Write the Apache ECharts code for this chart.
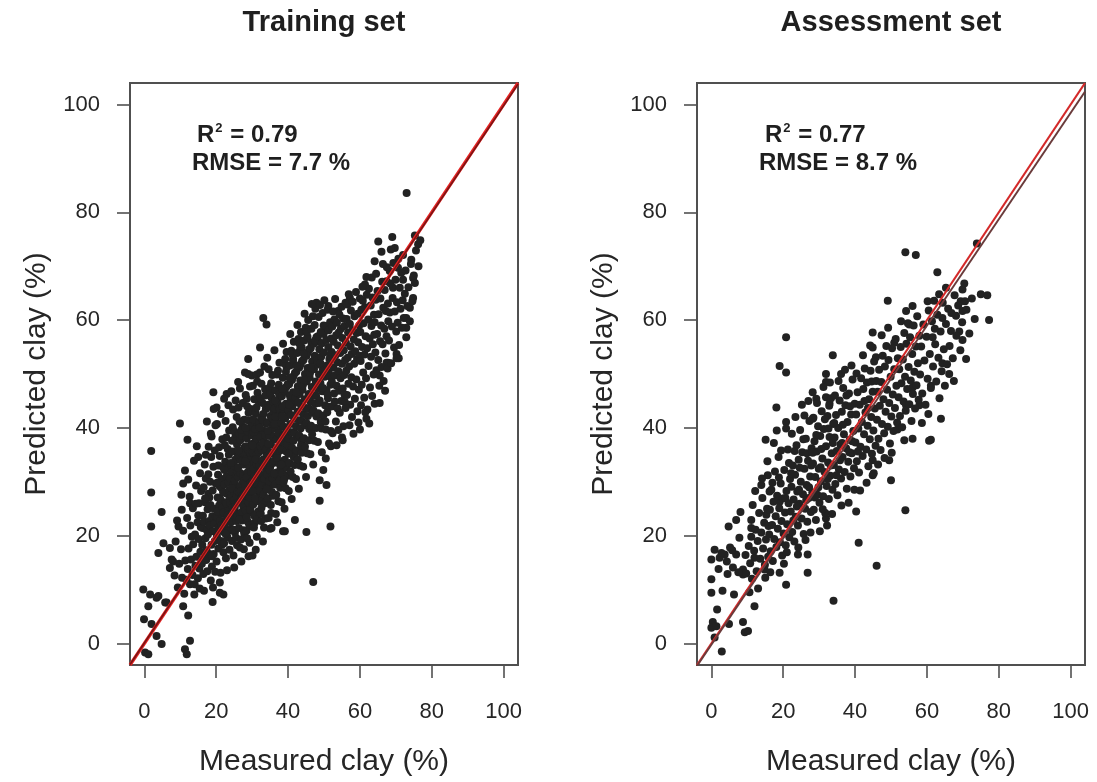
<!DOCTYPE html>
<html>
<head>
<meta charset="utf-8">
<script src="https://cdn.jsdelivr.net/npm/echarts@6/dist/echarts.min.js"></script>
<style>
  html, body { margin: 0; padding: 0; background: #ffffff; }
  #chart { width: 1097px; height: 782px; }
</style>
</head>
<body>
<div id="chart"></div>
<script>
// ---- labels and ticks ----
const panelTitles = ['Training set', 'Assessment set'];
const axisTicks = [0, 20, 40, 60, 80, 100];
const xAxisTitle = 'Measured clay (%)';
const yAxisTitle = 'Predicted clay (%)';
const r2Values = ['0.79', '0.77'];
const rmseValues = ['7.7 %', '8.7 %'];

// ---- training set: [measured, predicted] ----
// isolated and edge points
const trainingEdge = [
  [73.0,83.6],[65.1,74.6],[69.0,75.4],[75.3,75.7],[76.2,74.1],[69.7,73.4],[66.0,72.7],[64.1,70.9],[72.0,72.1],[74.3,71.2],
  [70.6,69.7],[68.3,69.1],[74.8,67.8],[75.3,66.9],[72.0,67.5],[69.2,66.0],[74.8,64.1],[67.4,67.2],[61.4,66.6],[57.2,64.1],
  [47.9,63.2],[51.2,62.6],[53.9,61.7],[33.1,60.4],[34.0,59.2],[73.9,62.3],[72.9,60.4],[72.9,58.6],[72.9,56.8],[70.2,53.7],
  [70.8,52.9],[67.8,52.1],[65.5,49.7],[50.7,58.6],[49.9,57.4],[32.2,54.9],[28.9,52.8],[28.0,50.3],[29.9,49.7],[31.3,49.9],
  [39.6,51.2],[41.4,52.8],[43.8,54.9],[46.5,55.8],[48.5,56.0],
  [1.9,35.7],[1.9,28.0],[1.9,21.7],[4.8,24.4],[9.9,40.8],[12.0,37.8],[3.9,16.8],[5.3,18.6],[7.1,17.7],[7.6,15.6],
  [7.1,14.0],[-0.3,10.0],[1.6,9.1],[3.4,8.5],[1.1,6.9],[-0.1,4.5],[2.0,3.6],[6.2,7.6],[3.4,1.4],[4.8,-0.1],
  [0.2,-1.7],[1.1,-2.0],[10.8,6.9],[12.2,5.2],[12.7,0.5],[11.3,-1.1],[11.8,-2.0],[19.0,7.7],[22.0,9.1],[30.1,16.3],
  [47.0,11.4],[45.1,20.7],[51.8,21.7],[48.8,26.5],[50.7,29.4],[48.8,30.3],[49.8,32.2],[64.1,44.5],[61.8,41.7],[60.0,39.7],
  [55.2,37.7],[51.9,36.6],[39.1,20.8],[41.9,22.9],[35.4,21.4],[67.4,52.1],[19.2,46.6],[22.9,46.3],[26.1,48.5],[28.9,50.0],
  [28.5,45.4],[20.1,43.8],[18.7,38.4],[15.0,34.6],[10.8,29.7],[10.4,24.8],[12.7,26.0],[9.5,21.7],[8.0,15.2],[3.9,8.8],
  [5.8,7.6],[21.0,9.4],[38.6,20.8]
];
// main cloud
const trainingCore = [
  [8.4,12.6],[8.7,18.9],[9.3,10.4],[9.7,14.8],[10.2,17.5],[10.5,12.2],[10.8,20.9],[11.1,9.2],[11.4,15.4],[11.9,23.3],[10.3,27.6],[11.3,32.1],[9.1,22.8],[11.7,11.8],
  [12.1,13.8],[12.3,17.6],[12.7,11.0],[12.8,21.9],[13.0,15.6],[13.4,12.7],[13.5,25.1],[13.6,18.4],[13.9,9.1],[14.1,20.2],[14.2,14.4],[14.4,29.3],[14.5,16.1],[14.8,22.5],[14.9,12.1],[15.1,19.4],
  [15.2,26.0],[15.3,13.9],[15.5,31.6],[15.6,17.0],[15.7,21.6],[15.8,28.3],[15.9,15.5],[12.6,27.2],[13.8,33.9],[14.6,36.6],[15.4,10.2],[13.2,19.8],[14.3,25.9],[15.0,23.8],[12.2,30.4],[14.0,11.0],
  [16.1,18.3],[16.0,14.8],[16.3,23.7],[16.2,21.4],[16.5,29.0],[16.4,12.9],[16.7,16.0],[16.8,33.2],[16.6,22.6],[17.0,19.5],[16.9,26.2],[17.2,15.5],[17.1,30.6],[17.4,21.0],[17.3,17.3],[17.6,24.9],
  [17.5,13.4],[17.8,27.8],[17.7,20.2],[17.9,36.5],[18.1,22.7],[18.0,16.6],[18.3,30.0],[18.2,21.9],[18.5,11.7],[18.4,25.7],[18.7,18.3],[18.6,34.6],[18.9,23.6],[18.8,14.3],[19.1,20.8],[19.0,28.4],
  [19.3,16.6],[19.2,32.8],[19.5,22.2],[19.4,25.0],[19.7,13.3],[19.6,19.0],[19.9,29.7],[19.8,40.5],[16.6,9.8],[17.4,41.2],[18.5,38.9],[19.3,43.5],[17.1,35.0],[18.1,27.1],[19.1,10.4],[16.9,26.9],
  [18.8,16.2],[19.9,23.5],[17.8,31.4],[19.6,35.8],
  [20.1,15.2],[20.2,19.9],[20.3,23.4],[20.4,27.1],[20.5,31.3],[20.6,17.6],[20.7,21.5],[20.8,25.6],[20.9,29.2],[21.0,34.8],[21.1,22.7],[21.2,13.1],[21.3,19.0],[21.4,26.4],[21.5,30.5],[21.6,24.0],
  [21.7,37.9],[21.8,20.8],[21.9,28.1],[22.0,16.9],[20.2,40.7],[20.6,33.0],[21.0,11.3],[21.3,42.6],[21.6,18.3],[21.9,32.7],[20.4,24.5],[20.9,21.1],[21.4,28.9],[21.8,25.2],[20.8,36.4],[21.1,26.8],
  [21.5,22.0],[20.3,29.8],
  [22.1,24.3],[22.2,18.6],[22.3,29.5],[22.4,21.8],[22.5,33.7],[22.6,26.2],[22.7,15.8],[22.8,22.9],[22.9,31.0],[23.0,27.8],[23.1,19.7],[23.2,36.1],[23.3,25.0],[23.4,29.9],[23.5,23.3],[23.6,39.5],
  [23.7,17.4],[23.8,27.0],[23.9,33.1],[24.0,21.2],[22.2,45.4],[22.6,41.3],[23.0,13.6],[23.4,44.2],[23.8,30.6],[22.4,36.8],[22.9,25.9],[23.3,20.8],[23.7,24.6],[22.1,28.0],[22.5,20.4],[23.1,32.4],
  [23.6,28.4],[22.8,38.2],[23.9,26.1],[22.3,32.2],[23.2,23.7],[23.5,35.0],
  [24.1,22.5],[24.2,27.6],[24.3,31.8],[24.4,19.0],[24.5,25.1],[24.6,35.6],[24.7,29.4],[24.8,16.3],[24.9,23.8],[25.0,33.0],[25.1,27.9],[25.2,20.6],[25.3,38.2],[25.4,26.6],[25.5,31.1],[25.6,24.2],
  [25.7,42.0],[25.8,18.2],[25.9,29.0],[26.0,34.6],[24.2,46.8],[24.6,40.1],[25.0,14.1],[25.4,45.1],[25.8,36.9],[24.3,28.8],[24.8,21.1],[25.2,30.2],[25.6,22.7],[24.4,37.6],[24.9,26.5],[25.3,34.1],
  [25.7,27.3],[24.1,33.5],[24.5,24.4],[25.1,39.3],[25.5,19.6],[25.9,31.8],[24.7,43.4],[25.2,25.3],[25.8,23.5],[26.0,28.2],
  [26.1,26.1],[26.2,30.9],[26.3,21.4],[26.4,34.5],[26.5,28.0],[26.6,24.0],[26.7,37.7],[26.8,31.6],[26.9,19.3],[27.0,27.0],[27.1,35.3],[27.2,22.8],[27.3,29.7],[27.4,40.2],[27.5,25.5],[27.6,33.2],
  [27.7,17.5],[27.8,28.8],[27.9,36.4],[28.0,23.9],[26.2,43.8],[26.6,47.3],[27.0,15.2],[27.4,44.6],[27.8,41.5],[26.3,38.9],[26.7,29.2],[27.1,24.4],[27.5,31.0],[27.9,26.7],[26.4,23.0],[26.8,34.0],
  [27.2,38.5],[27.6,21.0],[26.1,32.6],[26.5,41.2],[26.9,28.3],[27.3,33.9],[27.7,30.1],[28.0,35.1],[26.6,17.8],[27.0,39.6],[27.4,27.5],[27.8,20.4],[26.2,35.8],
  [28.1,29.3],[28.2,24.7],[28.3,34.2],[28.4,20.9],[28.5,38.1],[28.6,27.4],[28.7,31.7],[28.8,22.6],[28.9,41.4],[29.0,26.1],[29.1,35.7],[29.2,30.4],[29.3,18.7],[29.4,33.2],[29.5,28.6],[29.6,43.5],
  [29.7,24.3],[29.8,37.0],[29.9,31.2],[30.0,21.7],[28.2,46.1],[28.6,44.0],[29.0,16.2],[29.4,47.7],[29.8,40.4],[28.3,36.6],[28.7,27.8],[29.1,32.9],[29.5,25.2],[29.9,34.5],[28.4,30.8],[28.8,39.3],
  [29.2,22.0],[29.6,29.9],[28.1,33.8],[28.5,23.4],[28.9,36.0],[29.3,27.1],[29.7,31.8],[30.0,38.6],[28.6,19.5],[29.0,42.8],[29.4,24.8],[29.8,28.1],[28.2,40.0],[29.5,35.4],
  [30.1,30.2],[30.2,35.4],[30.3,25.8],[30.4,39.2],[30.5,28.7],[30.6,33.6],[30.7,22.4],[30.8,37.3],[30.9,31.5],[31.0,42.7],[31.1,27.0],[31.2,34.9],[31.3,19.8],[31.4,40.5],[31.5,29.6],[31.6,36.2],
  [31.7,24.5],[31.8,44.9],[31.9,32.6],[32.0,27.9],[30.2,47.8],[30.6,45.3],[31.0,17.4],[31.4,48.6],[31.8,38.8],[30.3,41.6],[30.7,31.0],[31.1,37.9],[31.5,26.4],[31.9,35.5],[30.4,32.4],[30.8,26.9],
  [31.2,43.8],[31.6,30.7],[30.1,36.8],[30.5,21.5],[30.9,39.8],[31.3,33.2],[31.7,28.5],[32.0,41.1],[30.6,23.7],[31.0,34.2],[31.4,23.0],[31.8,31.7],[30.2,28.3],[31.5,46.5],
  [32.1,33.0],[32.2,28.4],[32.3,38.3],[32.4,24.1],[32.5,41.9],[32.6,31.2],[32.7,35.9],[32.8,26.6],[32.9,44.6],[33.0,30.1],[33.1,39.5],[33.2,34.2],[33.3,21.5],[33.4,37.4],[33.5,29.3],[33.6,47.2],
  [33.7,32.6],[33.8,23.2],[33.9,40.8],[34.0,35.3],[32.2,50.3],[32.6,48.2],[33.0,18.9],[33.4,51.4],[33.8,43.5],[32.3,36.7],[32.7,29.5],[33.1,42.6],[33.5,26.0],[33.9,31.9],[32.4,45.5],[32.8,33.9],
  [33.2,27.7],[33.6,38.7],[32.1,40.1],[32.5,22.7],[32.9,37.1],[33.3,33.1],[33.7,46.0],[34.0,28.9],[32.6,25.2],[33.0,41.4],[33.4,30.5],[33.8,36.0],
  [34.1,36.1],[34.2,31.4],[34.3,41.0],[34.4,26.9],[34.5,44.3],[34.6,33.8],[34.7,38.5],[34.8,29.2],[34.9,47.5],[35.0,32.7],[35.1,42.2],[35.2,36.9],[35.3,24.2],[35.4,39.7],[35.5,31.0],[35.6,49.8],
  [35.7,35.2],[35.8,27.4],[35.9,43.1],[36.0,37.8],[34.2,53.0],[34.6,50.9],[35.0,21.3],[35.4,45.6],[35.8,40.6],[34.3,34.8],[34.7,30.1],[35.1,46.4],[35.5,28.1],[35.9,33.5],[34.4,39.4],[34.8,43.9],
  [35.2,25.7],[35.6,41.8],[34.1,28.6],[34.5,37.0],[34.9,32.2],[35.3,48.3],[35.7,30.6],[36.0,44.7],[34.6,23.3],[35.0,35.5],
  [36.1,38.4],[36.2,33.9],[36.3,43.6],[36.4,29.5],[36.5,47.0],[36.6,36.2],[36.7,41.1],[36.8,31.7],[36.9,49.9],[37.0,35.0],[37.1,44.6],[37.2,39.6],[37.3,26.4],[37.4,42.3],[37.5,33.4],[37.6,52.1],
  [37.7,37.5],[37.8,28.9],[37.9,45.8],[38.0,40.3],[36.2,54.4],[36.6,24.0],[37.0,22.5],[37.4,48.0],[37.8,35.8],[36.3,40.7],[36.7,27.6],[37.1,31.1],[37.5,46.2],[37.9,32.4],[36.4,45.1],[36.8,37.9],
  [37.2,50.6],[37.6,30.2],[36.1,31.5],[36.5,42.0],[36.9,34.4],[37.3,39.0],[37.7,43.5],[38.0,36.6],
  [38.1,40.9],[38.2,36.1],[38.3,45.9],[38.4,31.6],[38.5,49.3],[38.6,38.5],[38.7,43.4],[38.8,33.9],[38.9,52.0],[39.0,37.2],[39.1,46.7],[39.2,41.8],[39.3,28.8],[39.4,44.5],[39.5,35.6],[39.6,54.1],
  [39.7,39.6],[39.8,31.1],[39.9,48.1],[40.0,42.7],[38.2,26.2],[38.6,55.6],[39.0,25.0],[39.4,50.4],[39.8,36.9],[38.3,42.1],[38.7,29.9],[39.1,34.1],[39.5,47.6],[39.9,33.3],[38.4,47.2],[38.8,40.2],
  [39.2,52.8],[39.6,32.6],[38.1,33.2],[38.5,44.0],[38.9,30.4],[39.3,39.1],
  [40.1,43.3],[40.2,38.0],[40.3,48.1],[40.4,33.5],[40.5,51.6],[40.6,40.7],[40.7,45.5],[40.8,35.9],[40.9,54.3],[41.0,39.2],[41.1,48.9],[41.2,44.0],[41.3,30.9],[41.4,46.6],[41.5,37.6],[41.6,56.0],
  [41.7,41.7],[41.8,33.1],[41.9,50.2],[42.0,44.8],[40.2,28.3],[40.6,57.4],[41.0,26.8],[41.4,52.5],[41.8,39.0],[40.3,44.3],[40.7,31.9],[41.1,36.3],[41.5,49.6],[41.9,35.3],[40.4,49.3],[40.8,42.4],
  [41.2,53.6],[41.6,34.6],[40.1,35.2],[40.5,46.0],
  [42.1,45.6],[42.2,40.3],[42.3,50.4],[42.4,35.8],[42.5,53.9],[42.6,43.0],[42.7,47.7],[42.8,38.2],[42.9,56.5],[43.0,41.4],[43.1,51.2],[43.2,46.3],[43.3,33.0],[43.4,48.8],[43.5,39.9],[43.6,57.8],
  [43.7,44.0],[43.8,35.4],[43.9,52.4],[44.0,47.1],[42.2,30.5],[42.6,59.1],[43.0,28.7],[43.4,54.7],[43.8,41.3],[42.3,46.6],[42.7,34.2],[43.1,38.6],[43.5,51.8],[43.9,37.5],[42.4,51.5],[42.8,44.7],
  [43.2,55.6],[43.6,36.8],
  [44.1,47.9],[44.2,42.6],[44.3,52.6],[44.4,38.1],[44.5,56.2],[44.6,45.3],[44.7,50.0],[44.8,40.5],[44.9,58.6],[45.0,43.7],[45.1,53.4],[45.2,48.6],[45.3,35.3],[45.4,51.1],[45.5,42.2],[45.6,60.0],
  [45.7,46.3],[45.8,37.7],[45.9,54.6],[46.0,49.4],[44.2,32.8],[44.6,61.2],[45.0,30.9],[45.4,56.9],[45.8,43.6],[44.3,48.9],[44.7,36.5],[45.1,40.9],[45.5,54.0],[45.9,39.8],[44.4,53.7],[45.2,57.8],
  [46.1,50.2],[46.2,44.9],[46.3,54.8],[46.4,40.4],[46.5,58.4],[46.6,47.6],[46.7,52.3],[46.8,42.8],[46.9,60.7],[47.0,46.0],[47.1,55.6],[47.2,50.9],[47.3,37.6],[47.4,53.4],[47.5,44.5],[47.6,62.1],
  [47.7,48.6],[47.8,40.0],[47.9,56.8],[48.0,51.7],[46.2,35.1],[46.6,63.0],[47.0,33.2],[47.4,59.1],[47.8,45.9],[46.3,51.2],[46.7,38.8],[47.1,43.2],[47.5,56.2],[47.9,42.1],
  [48.1,52.5],[48.2,47.2],[48.3,57.0],[48.4,42.7],[48.5,60.6],[48.6,49.9],[48.7,54.6],[48.8,45.1],[48.9,62.8],[49.0,48.3],[49.1,57.8],[49.2,53.2],[49.3,39.9],[49.4,55.7],[49.5,46.8],[49.6,61.3],
  [49.7,50.9],[49.8,42.3],[49.9,59.0],[50.0,54.0],[48.3,37.4],[49.4,35.5],[50.2,49.5],[50.3,44.2],[50.4,58.9],[50.5,39.7],[50.6,56.3],[50.7,47.0],[50.8,51.6],[50.9,42.9],[51.0,61.9],[51.1,45.5],
  [51.2,55.0],[51.3,50.3],[51.4,37.1],[51.5,52.8],[51.6,43.9],[51.7,59.6],[51.8,48.0],[51.9,39.4],[52.0,56.6],[50.1,63.7],[50.5,34.3],[51.3,58.1],[51.8,53.4],[48.6,44.6],[49.1,41.1],[49.7,47.4],
  [50.4,41.2],[51.0,46.2],[51.6,49.6],[49.0,52.0],
  [52.1,54.1],[52.2,48.5],[52.3,58.8],[52.4,44.0],[52.5,61.6],[52.6,51.2],[52.7,56.0],[52.8,46.4],[52.9,60.1],[53.0,49.7],[53.1,63.9],[53.2,53.5],[53.3,41.2],[53.4,57.2],[53.5,47.8],[53.6,59.5],
  [53.7,52.2],[53.8,43.6],[53.9,55.3],[54.0,50.5],[52.4,39.0],[53.5,36.8],[54.1,57.7],[54.2,46.9],[54.3,61.0],[54.4,42.8],[54.5,53.9],[54.6,49.2],[54.7,58.4],[54.8,45.0],[54.9,62.5],[55.0,51.9],
  [55.1,56.7],[55.2,47.3],[55.3,60.3],[55.4,40.3],[55.5,54.4],[55.6,49.8],[55.7,58.9],[55.8,44.8],[55.9,52.6],[56.0,63.2],[53.0,44.9],[54.0,39.6],[55.0,38.2],[55.7,46.2],
  [56.1,55.8],[56.2,50.6],[56.3,60.2],[56.4,46.1],[56.5,62.9],[56.6,53.0],[56.7,57.7],[56.8,48.2],[56.9,64.8],[57.0,51.4],[57.2,59.3],[57.3,44.3],[57.4,55.1],[57.5,61.8],[57.6,49.4],[57.7,53.7],
  [57.8,42.0],[57.9,58.1],[58.0,63.4],[58.1,47.7],[58.3,56.4],[58.4,51.9],[58.5,60.7],[58.6,45.4],[58.7,54.2],[58.9,65.2],[59.0,49.0],[59.1,57.6],[59.2,52.8],[59.3,43.1],[59.4,61.2],[59.5,55.9],
  [59.7,47.1],[59.8,59.0],[59.9,53.4],[60.0,64.0],[57.1,40.5],[58.2,38.9],[59.6,41.0],[56.0,43.7],
  [60.1,57.8],[60.2,52.4],[60.4,61.9],[60.5,48.0],[60.6,55.0],[60.8,63.6],[60.9,50.3],[61.0,59.4],[61.2,45.6],[61.3,53.6],[61.4,62.4],[61.6,57.0],[61.7,49.2],[61.9,64.7],[62.0,54.8],[62.1,43.4],
  [62.3,60.1],[62.4,51.5],[62.5,65.8],[62.7,56.6],[62.8,47.5],[63.0,62.7],[63.1,53.2],[63.2,58.9],[63.4,45.9],[63.5,64.2],[63.6,55.5],[63.8,49.9],[63.9,61.0],[64.0,57.3],[60.3,44.2],[61.5,42.9],
  [62.6,40.8],[63.3,67.9],[60.7,66.2],[61.8,68.0],
  [64.1,59.6],[64.3,54.0],[64.4,63.8],[64.6,50.7],[64.8,57.4],[64.9,65.4],[65.1,52.6],[65.2,61.1],[65.4,47.8],[65.6,56.1],[65.7,64.0],[65.9,59.0],[66.0,51.3],[66.2,67.1],[66.3,55.5],[66.5,62.3],
  [66.6,48.7],[66.8,58.4],[66.9,65.6],[67.1,53.8],[67.2,61.7],[67.4,57.0],[67.5,69.8],[67.7,51.0],[67.8,63.1],[64.5,68.6],[65.5,44.6],[66.4,70.4],[67.0,46.9],[67.9,59.8],
  [68.1,56.2],[68.3,61.4],[68.5,66.8],[68.7,52.0],[68.9,58.8],[69.1,64.1],[69.3,70.6],[69.5,54.9],[69.7,61.6],[69.9,67.5],[70.1,57.9],[70.3,63.3],[70.5,59.5],[70.7,71.4],[70.9,55.4],[71.1,66.0],
  [71.3,62.1],[71.5,68.8],[71.7,58.6],[71.9,63.7],[68.6,73.1],[70.2,52.9],
  [72.2,60.4],[72.5,64.9],[72.7,69.2],[73.2,62.6],[73.5,66.1],[73.9,59.8],[74.2,70.4],[74.6,63.5],[75.0,68.3],[75.6,72.9],[76.3,70.0],[76.8,74.8]
];

// ---- assessment set: [measured, predicted] ----
const assessmentEdge = [
  [54.0,72.6],[56.9,72.1],[62.9,68.9],[49.1,63.6],[56.0,62.6],[54.2,61.7],[60.2,63.5],[63.4,64.8],[65.3,66.0],[69.9,65.7],
  [69.4,63.5],[70.6,63.5],[75.0,64.8],[76.8,64.6],[77.3,60.0],[69.9,61.7],[68.1,60.8],[64.3,60.4],[66.7,58.0],[69.0,57.9],
  [69.9,56.3],[52.8,59.8],[55.1,59.2],[44.9,57.7],[20.8,56.8],[33.8,53.5],[19.0,51.5],[20.8,50.3],[31.9,50.0],[36.1,50.0],
  [31.9,48.5],[44.9,54.9],[45.8,53.1],[50.9,55.8],[64.3,52.0],[61.6,56.8],[18.1,43.8],[25.9,42.3],[28.2,41.7],[15.1,37.8],
  [20.8,41.1],[20.8,39.9],[28.2,46.6],[29.2,45.4],[31.9,45.7],[32.9,44.5],[56.0,47.5],[57.9,44.2],[61.1,47.8],[63.9,41.7],
  [61.1,37.8],[56.0,38.0],[66.2,50.0],[54.2,44.2],[51.8,39.7],[50.0,30.3],[54.0,24.7],[41.0,18.7],[46.0,14.4],[34.0,7.9],
  [6.9,22.9],[0.9,17.4],[0.0,15.6],[2.3,15.9],[3.7,16.5],[6.0,14.1],[6.9,16.5],[0.0,11.9],[0.0,9.4],[8.8,13.7],
  [8.8,12.8],[12.0,6.9],[8.8,4.0],[9.3,2.1],[10.2,2.3],[0.4,4.0],[0.0,2.9],[1.4,3.2],[0.9,1.1],[2.9,-1.5],
  [11.1,22.9],[11.1,21.4],[11.1,19.8],[15.3,23.9],[15.7,31.2],[13.9,29.4],[16.2,28.2],[19.0,26.3],[19.0,13.1],[20.8,10.9],
  [26.8,16.5],[26.8,13.1],[24.1,16.5],[14.8,13.7],[12.0,15.9],[31.9,23.2],[40.3,24.5],[39.8,28.5],[44.9,34.0],[44.9,31.2],
  [49.5,34.0],[53.7,37.7],[60.6,37.6],[73.9,74.2]
];
const assessmentCore = [
  [2.0,13.8],[4.5,12.9],[5.2,17.8],[7.8,19.6],[3.1,9.8],[9.5,16.4],[8.1,24.4],[4.8,21.7],[1.6,6.3],[6.3,9.1],
  [4.3,15.2],[5.8,17.3],[2.8,16.8],[7.5,13.2],[9.7,13.0],[4.9,3.6],
  [10.4,18.1],[10.8,14.9],[11.5,25.7],[11.9,17.2],[12.3,21.1],[12.6,13.4],[12.9,19.0],[13.3,24.2],[13.6,15.7],[13.9,20.6],
  [14.2,27.0],[14.4,17.6],[14.7,22.4],[15.0,12.2],[15.2,19.3],[15.5,25.0],[15.8,16.1],[13.0,10.2],[14.1,30.6],[15.6,33.8],
  [10.6,9.5],[12.2,28.3],[14.9,14.6],[15.9,21.8],[11.3,12.0],
  [16.1,20.2],[16.3,24.8],[16.5,17.1],[16.7,28.5],[16.9,22.0],[17.1,15.3],[17.3,26.3],[17.5,19.4],[17.7,31.9],[17.9,23.6],
  [18.1,17.9],[18.3,27.4],[18.5,21.3],[18.7,34.6],[18.9,25.1],[19.1,18.8],[19.3,29.7],[19.5,22.7],[19.7,16.3],[19.9,26.9],
  [20.1,20.4],[20.3,32.2],[20.5,24.3],[20.7,18.2],[20.9,28.3],[21.1,22.1],[21.3,36.0],[21.5,26.0],[21.7,19.7],[21.9,30.5],
  [16.4,13.2],[17.4,37.2],[18.2,39.5],[19.4,35.8],[20.2,14.8],[21.0,16.9],[21.6,33.5],[18.8,30.8],[20.6,27.0],[17.0,29.8],
  [22.1,24.5],[22.3,29.1],[22.5,20.7],[22.7,33.0],[22.9,26.7],[23.1,18.9],[23.3,31.3],[23.5,23.5],[23.7,36.8],[23.9,28.2],
  [24.1,21.9],[24.3,34.1],[24.5,25.9],[24.7,39.6],[24.9,30.0],[25.1,23.2],[25.3,35.5],[25.5,27.7],[25.7,20.3],[25.9,32.4],
  [26.1,25.0],[26.3,38.0],[26.5,29.4],[26.7,22.6],[26.9,33.9],[27.1,27.0],[27.3,41.3],[27.5,31.0],[27.7,24.4],[27.9,36.2],
  [22.4,38.9],[23.4,42.0],[24.2,17.8],[25.2,44.3],[26.2,19.2],[27.0,45.0],[27.6,20.6],[22.8,22.8],[24.6,32.6],[26.6,35.3],
  [23.8,25.4],[25.6,37.9],[27.2,29.0],[22.2,31.6],[24.4,28.5],[26.4,26.6],[27.8,33.0],[23.2,35.7],
  [28.1,28.0],[28.3,33.4],[28.5,24.8],[28.7,37.5],[28.9,30.9],[29.1,22.9],[29.3,35.6],[29.5,27.6],[29.7,40.3],[29.9,32.4],
  [30.1,26.1],[30.3,38.5],[30.5,30.1],[30.7,43.1],[30.9,34.3],[31.1,27.3],[31.3,39.8],[31.5,31.8],[31.7,24.2],[31.9,36.6],
  [32.1,29.2],[32.3,42.2],[32.5,33.6],[32.7,26.8],[32.9,38.3],[33.1,31.1],[33.3,45.5],[33.5,35.3],[33.7,28.5],[33.9,40.7],
  [28.4,41.9],[29.4,44.6],[30.2,20.8],[31.2,47.6],[32.2,21.9],[33.0,48.4],[33.6,24.0],[28.8,27.1],[30.6,36.1],[32.6,39.9],
  [29.8,29.0],[31.6,41.6],[33.2,33.0],[28.2,35.4],[30.4,32.7],[32.4,30.5],[33.8,37.2],[29.2,38.7],[31.0,24.9],[32.8,44.1],
  [34.1,33.1],[34.3,38.2],[34.5,29.6],[34.7,42.4],[34.9,35.7],[35.1,27.5],[35.3,40.0],[35.5,32.3],[35.7,45.1],[35.9,36.9],
  [36.1,30.6],[36.3,43.0],[36.5,34.6],[36.7,47.4],[36.9,38.8],[37.1,31.8],[37.3,44.2],[37.5,36.2],[37.7,28.7],[37.9,41.1],
  [38.1,33.7],[38.3,46.4],[38.5,37.8],[38.7,31.0],[38.9,42.5],[39.1,35.3],[39.3,49.0],[39.5,39.4],[39.7,32.5],[39.9,44.5],
  [34.4,46.0],[35.4,48.7],[36.2,25.6],[37.2,50.8],[38.2,26.1],[39.0,51.6],[34.8,31.2],[36.6,40.6],[38.6,44.0],[35.8,34.0],
  [37.6,46.0],[39.2,37.5],[34.2,40.9],[36.4,37.2],[38.4,35.5],
  [40.1,37.3],[40.3,42.5],[40.5,33.8],[40.7,46.6],[40.9,39.9],[41.1,31.7],[41.3,44.3],[41.5,36.5],[41.7,49.2],[41.9,41.1],
  [42.1,34.8],[42.3,47.2],[42.5,38.8],[42.7,51.0],[42.9,42.9],[43.1,36.0],[43.3,48.4],[43.5,40.4],[43.7,32.9],[43.9,45.3],
  [44.1,37.9],[44.3,50.6],[44.5,42.0],[44.7,35.2],[44.9,46.7],[45.1,39.5],[45.3,52.3],[45.5,43.6],[45.7,36.7],[45.9,48.7],
  [40.4,50.1],[41.4,28.4],[42.2,53.5],[43.2,29.8],[44.2,55.3],[45.2,31.6],[40.8,35.6],[42.6,45.0],[44.6,48.6],[43.6,43.7],
  [46.1,41.5],[46.3,46.7],[46.5,38.0],[46.7,50.8],[46.9,44.1],[47.1,35.9],[47.3,48.5],[47.5,40.7],[47.7,53.4],[47.9,45.3],
  [48.1,39.0],[48.3,51.4],[48.5,43.0],[48.7,55.2],[48.9,47.1],[49.1,40.2],[49.3,52.6],[49.5,44.6],[49.7,37.1],[49.9,49.5],
  [50.1,42.1],[50.3,54.8],[50.5,46.2],[50.7,39.4],[50.9,50.9],[51.1,43.7],[51.3,56.5],[51.5,47.8],[51.7,41.0],[51.9,52.9],
  [46.4,33.2],[47.4,57.2],[48.2,34.4],[49.2,58.6],[50.2,35.4],
  [52.1,45.7],[52.3,50.9],[52.5,42.2],[52.7,55.0],[52.9,48.3],[53.1,40.1],[53.3,52.7],[53.5,44.9],[53.7,57.6],[53.9,49.5],
  [54.1,43.2],[54.3,55.6],[54.5,47.2],[54.7,59.4],[54.9,51.3],[55.1,44.4],[55.3,56.8],[55.5,48.8],[55.7,41.3],[55.9,53.7],
  [56.1,46.3],[56.3,59.0],[56.5,50.4],[56.7,43.6],[56.9,55.1],[57.1,47.9],[57.3,60.7],[57.5,52.0],[57.7,45.2],[57.9,57.1],
  [58.1,49.9],[58.4,55.1],[58.7,46.4],[59.0,59.2],[59.3,52.5],[59.6,44.3],[59.9,56.9],[60.2,49.1],[60.5,61.8],[60.8,53.7],
  [61.1,47.4],[61.4,59.8],[61.7,51.4],[62.0,63.6],[62.3,55.5],[62.6,48.6],[62.9,61.0],[63.2,53.0],[63.5,45.5],[63.8,57.9],
  [64.1,50.5],[64.4,63.2],[64.7,54.6],[65.0,47.8],[65.3,59.3],[65.6,51.8],[65.9,62.1],[58.6,40.9],[60.4,42.6],[62.2,58.4],
  [66.3,55.2],[66.8,61.3],[67.2,52.9],[67.7,64.6],[68.2,57.1],[68.7,62.7],[69.3,54.4],[69.8,59.6],[70.4,66.8],[71.0,61.9],
  [71.8,57.5],[72.5,64.0],[73.3,60.2],[67.5,48.7],[70.9,52.8]
];

// ---- reference lines (end points at the axis limits) ----
const oneToOneLine = [[-4, -4], [104, 104]];
const trainingFitLine = [[-4, -3.9], [104, 103.8]];
const assessmentFitLine = [[-4, -4.2], [104, 102.4]];

// ---- layout ----
const axisMin = -4, axisMax = 104;
const panels = [
  { left: 130, title: panelTitles[0], r2: r2Values[0], rmse: rmseValues[0], r2x: 197, rmsex: 192 },
  { left: 697, title: panelTitles[1], r2: r2Values[1], rmse: rmseValues[1], r2x: 765, rmsex: 759 }
];
const gridTop = 83, gridW = 388, gridH = 583;
const fontFamily = '"Liberation Sans", Arial, Helvetica, sans-serif';
const textColor = '#262626';
const frameColor = '#505050';

const grids = panels.map(p => ({
  left: p.left, top: gridTop, width: gridW, height: gridH,
  show: true, borderColor: frameColor, borderWidth: 2, backgroundColor: 'transparent'
}));

function makeAxis(gridIndex, isX) {
  return {
    gridIndex: gridIndex,
    type: 'value',
    min: axisMin,
    max: axisMax,
    axisLine: { show: false, onZero: false },
    splitLine: { show: false },
    axisTick: {
      show: true, inside: false, length: 13, customValues: axisTicks,
      lineStyle: { color: frameColor, width: 1.6 }
    },
    axisLabel: {
      customValues: axisTicks,
      margin: isX ? 36 : 30,
      fontSize: 22, color: textColor, fontFamily: fontFamily
    },
    name: isX ? xAxisTitle : yAxisTitle,
    nameLocation: 'middle',
    nameGap: isX ? 82 : 78,
    nameRotate: isX ? 0 : 90,
    nameTextStyle: { fontSize: 30, color: textColor, fontFamily: fontFamily }
  };
}

const pointStyle = { color: '#222222', opacity: 1 };

function scatterSeries(idx, data) {
  return {
    type: 'scatter', xAxisIndex: idx, yAxisIndex: idx,
    data: data, symbol: 'circle', symbolSize: 8,
    itemStyle: pointStyle, silent: true, z: 2
  };
}
function lineSeries(idx, data, color, width, z) {
  return {
    type: 'line', xAxisIndex: idx, yAxisIndex: idx,
    data: data, symbol: 'none', showSymbol: false, clip: true,
    lineStyle: { color: color, width: width }, silent: true, z: z
  };
}

const textGraphics = [];
panels.forEach(p => {
  textGraphics.push({
    type: 'text', x: p.left + gridW / 2, y: 23,
    style: {
      text: p.title, fill: '#1f1f1f', align: 'center', verticalAlign: 'middle',
      font: 'bold 29px ' + fontFamily
    }
  });
  textGraphics.push({
    type: 'text', x: p.r2x, y: 135,
    style: {
      text: '{b|R}{s|2}{b| = ' + p.r2 + '}',
      align: 'left', verticalAlign: 'middle',
      rich: {
        b: { fontSize: 24, fontWeight: 'bold', fontFamily: fontFamily, fill: '#1f1f1f', lineHeight: 26 },
        s: { fontSize: 13, fontWeight: 'bold', fontFamily: fontFamily, fill: '#1f1f1f', verticalAlign: 'top', lineHeight: 26, padding: [0, 1, 0, 1] }
      }
    }
  });
  textGraphics.push({
    type: 'text', x: p.rmsex, y: 163,
    style: {
      text: 'RMSE = ' + p.rmse, fill: '#1f1f1f', align: 'left', verticalAlign: 'middle',
      font: 'bold 24px ' + fontFamily
    }
  });
});

const chart = echarts.init(document.getElementById('chart'), null, { renderer: 'canvas' });
chart.setOption({
  animation: false,
  backgroundColor: '#ffffff',
  grid: grids,
  xAxis: [makeAxis(0, true), makeAxis(1, true)],
  yAxis: [makeAxis(0, false), makeAxis(1, false)],
  graphic: textGraphics,
  series: [
    scatterSeries(0, trainingEdge.concat(trainingCore)),
    lineSeries(0, oneToOneLine, '#e32222', 3.2, 3),
    lineSeries(0, trainingFitLine, '#7a1414', 1.6, 4),
    scatterSeries(1, assessmentEdge.concat(assessmentCore)),
    lineSeries(1, oneToOneLine, '#d42a2a', 2.2, 3),
    lineSeries(1, assessmentFitLine, '#6a3b3b', 1.8, 4)
  ]
});
</script>
</body>
</html>
